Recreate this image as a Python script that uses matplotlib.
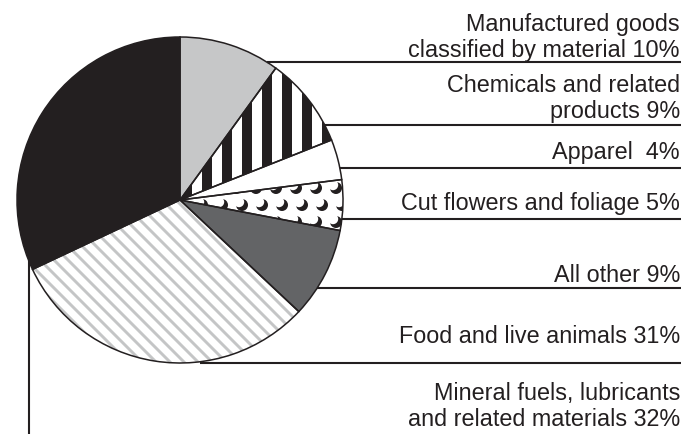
import numpy as np
import matplotlib
matplotlib.use("Agg")
import matplotlib.pyplot as plt
from matplotlib.patches import Wedge, Rectangle, Circle

plt.rcParams['font.family'] = ['Liberation Sans', 'DejaVu Sans']

# data (clockwise from 12 o'clock)
labels = ["Manufactured goods\nclassified by material 10%",
          "Chemicals and related\nproducts 9%",
          "Apparel  4%",
          "Cut flowers and foliage 5%",
          "All other 9%",
          "Food and live animals 31%",
          "Mineral fuels, lubricants\nand related materials 32%"]
shares = [10, 9, 4, 5, 9, 31, 32]
colors = ['#c6c7c8', 'white', 'white', 'white', '#636466', 'white', '#231f20']

W, H = 681, 435
cx, cy, R = 180, H - 201, 163

# label layout in image pixels (first baseline, leader line y)
label_base = [31, 92, 159, 210, 282, 343, 400]
leader_y = [63, 126, 169, 220, 289, 364, None]

fig = plt.figure(figsize=(W / 100, H / 100), dpi=100)
ax = fig.add_axes([0, 0, 1, 1])

wedges, _ = ax.pie(shares, startangle=90, counterclock=False, center=(cx, cy),
                   radius=R, colors=colors,
                   wedgeprops=dict(edgecolor='none', linewidth=0))

# vertical black stripes - chemicals
w = wedges[1]
for x0 in np.arange(cx + 2, cx + R + 20, 20):
    r = Rectangle((x0, cy - 5), 9.5, R + 10, fc='#231f20', ec='none', zorder=2)
    r.set_clip_path(w)
    ax.add_patch(r)

# crescents - cut flowers
w = wedges[3]
for j, yy in enumerate(np.arange(H - 189, H - 245, -17)):
    for xx in np.arange(cx + 16 + (j % 2) * 6, cx + R + 10, 20):
        c1 = Circle((xx, yy), 6, fc='#231f20', ec='none', zorder=2)
        c2 = Circle((xx - 3, yy + 3), 5.2, fc='white', ec='none', zorder=2.1)
        for c in (c1, c2):
            c.set_clip_path(w)
            ax.add_patch(c)

# diagonal light gray stripes - food
w = wedges[5]
for c0 in np.arange(cx + cy - 2 * R, cx + cy + 2 * R, 14):
    xs = np.array([cx - R - 10, cx + R + 10])
    ln, = ax.plot(xs, c0 - xs, color='#c4c5c6', lw=2.1, zorder=2,
                  solid_capstyle='butt')
    ln.set_clip_path(w)

# wedge outlines on top
for wd in wedges:
    ax.add_patch(Wedge((cx, cy), R, wd.theta1, wd.theta2, fill=False,
                       ec='#231f20', lw=1.1, zorder=3))

# labels and leader lines
for lab, yb, yl in zip(labels, label_base, leader_y):
    for k, line in enumerate(lab.split('\n')):
        ax.text(680, H - (yb + 26 * k), line, ha='right', va='baseline',
                fontsize=16.8, color='#231f20')
    if yl is not None:
        dy = (H - yl) - cy
        xs = cx + np.sqrt(max(R ** 2 - dy ** 2, 0))
        ax.plot([max(xs, 200), W], [H - yl, H - yl], color='#231f20', lw=1.5,
                zorder=3, solid_capstyle='butt')

# leader for mineral fuels: vertical line down from pie edge
xm = 29
ym = cy - np.sqrt(R ** 2 - (xm - cx) ** 2)
ax.plot([xm, xm], [ym, -5], color='#231f20', lw=1.5, zorder=3)

ax.set_xlim(0, W)
ax.set_ylim(0, H)
ax.set_aspect('auto')
ax.axis('off')
fig.savefig('out.png', dpi=100, facecolor='white')
